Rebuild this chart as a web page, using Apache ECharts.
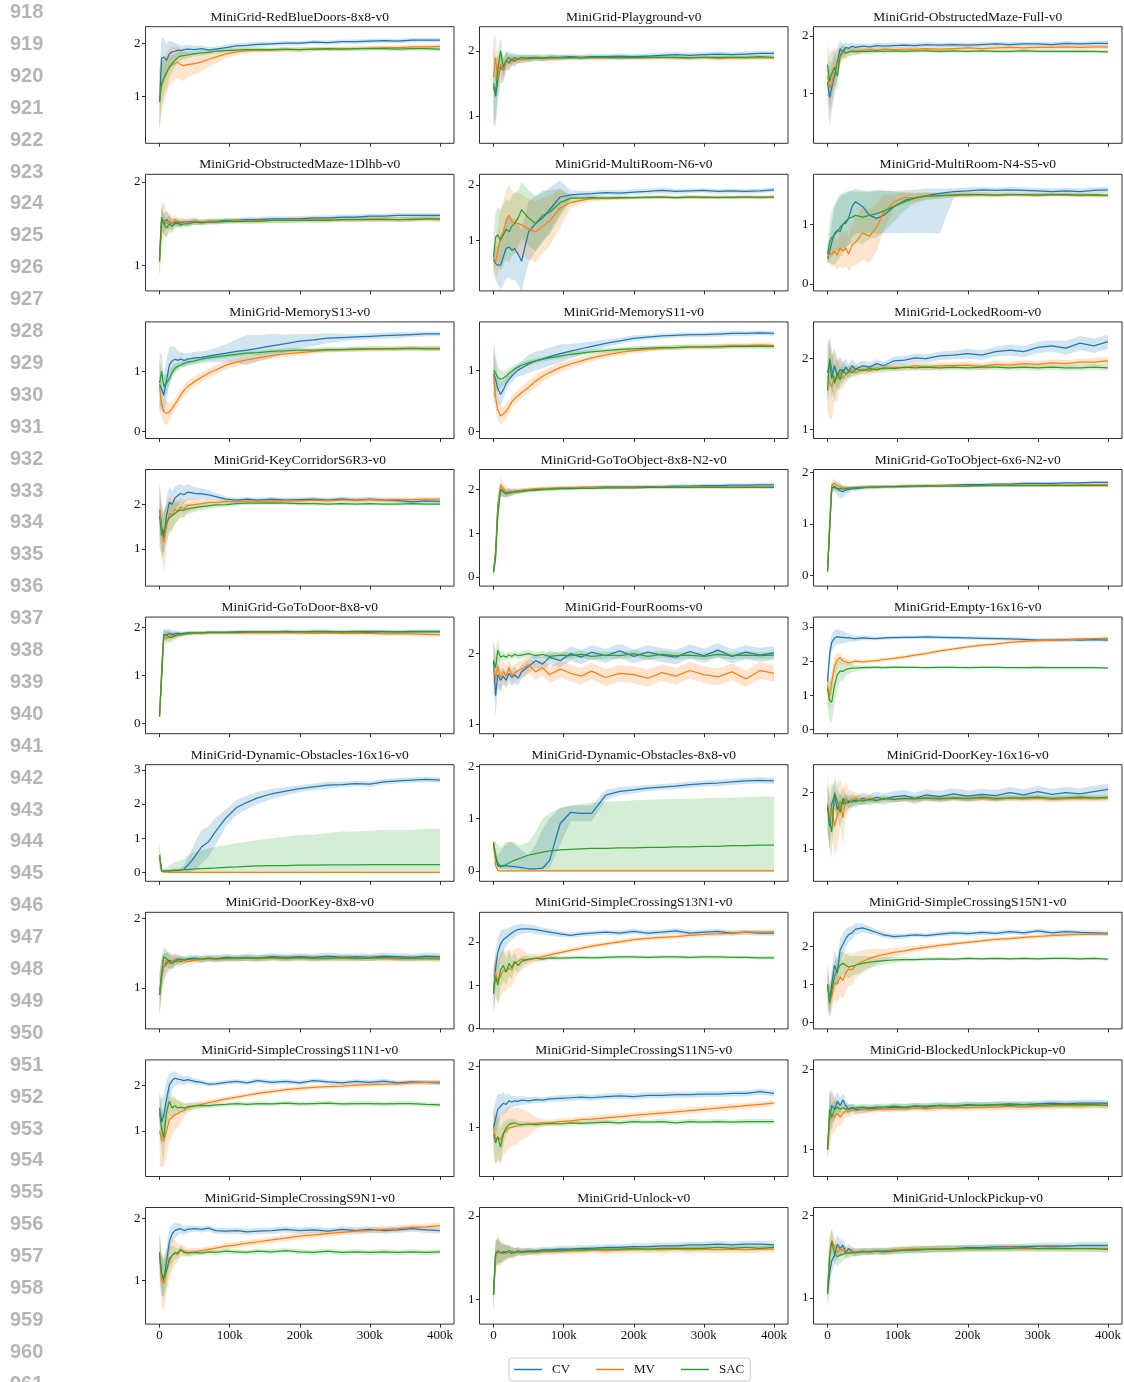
<!DOCTYPE html>
<html><head><meta charset="utf-8">
<script src="https://cdn.jsdelivr.net/npm/echarts@6/dist/echarts.min.js"></script>
<style>html,body{margin:0;padding:0;background:#fff}#c{width:1124px;height:1382px}</style>
</head><body><div id="c"></div>
<script>
// ---------------- DATA ----------------
const X = [0,3,6,10,14,18,22,26, 30,35,40,50,60,70,80,95, 110,125,140,160,180,200,220,240, 260,280,300,320,340,360,380,400];
const X_TICKS = [0,100,200,300,400];
const X_TICK_LABELS = ['0','100k','200k','300k','400k'];
const SERIES_NAMES = ['CV','MV','SAC'];
const LINE_NUMBERS = [918,919,920,921,922,923,924,925,926,927,928,929,930,931,932,933,934,935,936,937,938,939,940,941,942,943,944,945,946,947,948,949,950,951,952,953,954,955,956,957,958,959,960,961];

// P1 RedBlueDoors-8x8
const p01_cv = [0.90,1.72,1.74,1.68,1.80,1.84,1.85,1.87, 1.86,1.88,1.89,1.88,1.90,1.87,1.89,1.92, 1.95,1.96,1.98,1.99,2.00,2.00,2.02,2.01, 2.03,2.03,2.04,2.05,2.04,2.06,2.06,2.06];
const p01_cv_s = [0.6,0.4,0.35,0.3,0.25,0.2,0.15,0.12, 0.1,0.08,0.08,0.07,0.06,0.06,0.05,0.05, 0.05,0.05,0.05,0.04,0.04,0.04,0.04,0.04, 0.04,0.04,0.04,0.04,0.04,0.04,0.04,0.04];
const p01_mv = [1.00,1.20,1.30,1.45,1.55,1.60,1.62,1.65, 1.60,1.58,1.60,1.62,1.65,1.70,1.74,1.80, 1.84,1.86,1.87,1.87,1.88,1.88,1.89,1.89, 1.90,1.90,1.91,1.92,1.92,1.93,1.93,1.94];
const p01_mv_s = [0.55,0.5,0.45,0.4,0.35,0.35,0.3,0.3, 0.3,0.28,0.25,0.2,0.18,0.15,0.12,0.08, 0.06,0.05,0.05,0.04,0.04,0.04,0.04,0.04, 0.04,0.04,0.04,0.04,0.04,0.04,0.04,0.04];
const p01_sac = [0.90,1.25,1.35,1.45,1.55,1.62,1.68,1.73, 1.76,1.77,1.78,1.80,1.82,1.83,1.85,1.86, 1.87,1.88,1.88,1.88,1.89,1.88,1.89,1.90, 1.89,1.90,1.90,1.90,1.89,1.90,1.90,1.89];
const p01_sac_s = [0.55,0.4,0.35,0.3,0.2,0.15,0.12,0.1, 0.08,0.08,0.06,0.05,0.05,0.04,0.04,0.04, 0.04,0.04,0.04,0.04,0.04,0.04,0.04,0.04, 0.04,0.04,0.04,0.04,0.04,0.04,0.04,0.04];
// P2 Playground
const p02_cv = [1.45,1.30,1.55,1.75,1.70,1.85,1.82,1.87, 1.85,1.88,1.87,1.89,1.90,1.89,1.90,1.90, 1.91,1.90,1.91,1.91,1.92,1.91,1.92,1.93, 1.94,1.93,1.94,1.95,1.94,1.95,1.96,1.96];
const p02_cv_s = [0.6,0.45,0.35,0.25,0.2,0.15,0.12,0.1, 0.08,0.07,0.06,0.05,0.05,0.05,0.05,0.04, 0.04,0.04,0.04,0.04,0.04,0.04,0.04,0.04, 0.04,0.04,0.04,0.04,0.04,0.04,0.04,0.04];
const p02_mv = [1.60,1.90,1.55,1.80,1.70,1.85,1.80,1.85, 1.83,1.87,1.86,1.88,1.88,1.89,1.88,1.89, 1.89,1.90,1.89,1.89,1.90,1.89,1.89,1.90, 1.89,1.89,1.90,1.88,1.89,1.89,1.89,1.89];
const p02_mv_s = [0.6,0.35,0.3,0.2,0.15,0.12,0.1,0.08, 0.07,0.06,0.05,0.05,0.04,0.04,0.04,0.04, 0.03,0.03,0.03,0.03,0.03,0.03,0.03,0.03, 0.03,0.03,0.03,0.03,0.03,0.03,0.03,0.03];
const p02_sac = [1.50,1.35,1.70,2.00,1.75,1.85,1.90,1.85, 1.90,1.87,1.90,1.88,1.89,1.88,1.90,1.89, 1.90,1.89,1.90,1.90,1.89,1.90,1.90,1.90, 1.90,1.89,1.90,1.90,1.90,1.90,1.91,1.90];
const p02_sac_s = [0.6,0.4,0.3,0.2,0.15,0.12,0.1,0.08, 0.07,0.06,0.05,0.05,0.04,0.04,0.04,0.04, 0.03,0.03,0.03,0.03,0.03,0.03,0.03,0.03, 0.03,0.03,0.03,0.03,0.03,0.03,0.03,0.03];
// P3 ObstructedMaze-Full
const p03_cv = [1.20,0.93,1.10,1.30,1.55,1.78,1.72,1.80, 1.78,1.82,1.80,1.82,1.81,1.83,1.82,1.83, 1.84,1.83,1.85,1.84,1.85,1.84,1.85,1.86, 1.85,1.86,1.86,1.85,1.87,1.86,1.87,1.87];
const p03_cv_s = [0.3,0.5,0.4,0.35,0.25,0.15,0.12,0.1, 0.08,0.07,0.06,0.05,0.05,0.05,0.05,0.05, 0.04,0.04,0.04,0.04,0.04,0.04,0.04,0.04, 0.04,0.04,0.04,0.04,0.04,0.04,0.04,0.04];
const p03_mv = [1.30,1.10,1.15,1.45,1.50,1.65,1.70,1.70, 1.72,1.74,1.74,1.75,1.76,1.75,1.77,1.76, 1.77,1.77,1.78,1.77,1.78,1.79,1.78,1.79, 1.80,1.79,1.80,1.80,1.81,1.80,1.81,1.81];
const p03_mv_s = [0.3,0.45,0.4,0.35,0.25,0.15,0.12,0.1, 0.08,0.07,0.06,0.05,0.05,0.05,0.04,0.04, 0.04,0.04,0.04,0.04,0.04,0.04,0.04,0.04, 0.04,0.04,0.04,0.04,0.04,0.04,0.04,0.04];
const p03_sac = [1.50,1.20,1.35,1.45,1.30,1.65,1.75,1.70, 1.72,1.73,1.72,1.73,1.73,1.74,1.73,1.74, 1.73,1.74,1.74,1.73,1.74,1.73,1.74,1.73, 1.73,1.74,1.73,1.73,1.73,1.73,1.73,1.72];
const p03_sac_s = [0.35,0.45,0.4,0.3,0.25,0.15,0.12,0.1, 0.08,0.07,0.06,0.05,0.05,0.04,0.04,0.04, 0.03,0.03,0.03,0.03,0.03,0.03,0.03,0.03, 0.03,0.03,0.03,0.03,0.03,0.03,0.03,0.03];
// P4 ObstructedMaze-1Dlhb
const p04_cv = [1.10,1.55,1.50,1.55,1.52,1.50,1.52,1.50, 1.51,1.52,1.52,1.53,1.52,1.53,1.53,1.54, 1.54,1.55,1.55,1.56,1.56,1.56,1.57,1.57, 1.58,1.58,1.59,1.59,1.60,1.60,1.60,1.60];
const p04_cv_s = [0.2,0.15,0.12,0.1,0.08,0.06,0.05,0.05, 0.04,0.04,0.04,0.04,0.03,0.03,0.03,0.03, 0.03,0.03,0.03,0.03,0.03,0.03,0.03,0.03, 0.03,0.03,0.03,0.03,0.03,0.03,0.03,0.03];
const p04_mv = [1.05,1.50,1.55,1.50,1.53,1.50,1.55,1.52, 1.53,1.52,1.51,1.53,1.52,1.53,1.53,1.53, 1.54,1.53,1.54,1.54,1.54,1.55,1.55,1.55, 1.55,1.55,1.56,1.56,1.55,1.56,1.56,1.55];
const p04_mv_s = [0.2,0.25,0.2,0.15,0.1,0.08,0.06,0.05, 0.05,0.04,0.04,0.04,0.03,0.03,0.03,0.03, 0.03,0.03,0.03,0.03,0.03,0.03,0.03,0.03, 0.03,0.03,0.03,0.03,0.03,0.03,0.03,0.03];
const p04_sac = [1.05,1.58,1.50,1.45,1.50,1.47,1.50,1.52, 1.48,1.50,1.50,1.52,1.51,1.52,1.52,1.53, 1.53,1.53,1.53,1.54,1.54,1.54,1.54,1.54, 1.55,1.55,1.55,1.55,1.55,1.55,1.56,1.56];
const p04_sac_s = [0.2,0.15,0.12,0.12,0.1,0.08,0.06,0.05, 0.04,0.04,0.04,0.03,0.03,0.03,0.03,0.03, 0.03,0.03,0.03,0.03,0.03,0.03,0.03,0.03, 0.03,0.03,0.03,0.03,0.03,0.03,0.03,0.03];
// P5 MultiRoom-N6
const p05_cv = [0.65,0.58,0.55,0.55,0.70,0.85,0.88,0.82, 0.85,0.75,0.62,1.15,1.30,1.40,1.55,1.78, 1.82,1.83,1.84,1.86,1.85,1.87,1.88,1.90, 1.88,1.89,1.90,1.88,1.89,1.88,1.89,1.91];
const p05_cv_s = [0.1,0.3,0.35,0.45,0.5,0.55,0.55,0.55, 0.55,0.55,0.55,0.55,0.5,0.45,0.4,0.3, 0.08,0.06,0.05,0.05,0.05,0.05,0.05,0.05, 0.04,0.04,0.04,0.04,0.04,0.04,0.04,0.04];
const p05_mv = [0.70,0.60,0.80,1.05,1.15,1.35,1.45,1.35, 1.30,1.30,1.28,1.20,1.15,1.25,1.35,1.58, 1.68,1.72,1.75,1.76,1.76,1.77,1.77,1.78, 1.77,1.78,1.77,1.78,1.77,1.78,1.77,1.78];
const p05_mv_s = [0.25,0.3,0.4,0.5,0.55,0.55,0.55,0.55, 0.55,0.55,0.55,0.55,0.55,0.5,0.45,0.35, 0.1,0.06,0.05,0.04,0.04,0.03,0.03,0.03, 0.03,0.03,0.03,0.03,0.03,0.03,0.03,0.03];
const p05_sac = [0.70,1.05,1.10,1.00,1.10,1.20,1.15,1.25, 1.30,1.40,1.55,1.40,1.30,1.45,1.50,1.68, 1.76,1.76,1.77,1.76,1.77,1.77,1.78,1.78, 1.77,1.78,1.78,1.77,1.78,1.78,1.78,1.78];
const p05_sac_s = [0.35,0.45,0.5,0.55,0.55,0.55,0.55,0.55, 0.55,0.5,0.5,0.5,0.5,0.45,0.4,0.25, 0.06,0.04,0.04,0.04,0.03,0.03,0.03,0.03, 0.03,0.03,0.03,0.03,0.03,0.03,0.03,0.03];
// P6 MultiRoom-N4-S5
const p06_cv = [0.42,0.55,0.70,0.85,0.90,0.88,1.00,1.02, 1.10,1.30,1.38,1.30,1.15,1.10,1.15,1.30, 1.40,1.45,1.48,1.52,1.55,1.56,1.58,1.57, 1.58,1.57,1.56,1.55,1.56,1.55,1.57,1.58];
const p06_cv_lo = [0.35,0.40,0.45,0.50,0.55,0.55,0.60,0.60, 0.65,0.80,0.85,0.85,0.85,0.85,0.85,0.85, 0.85,0.85,0.85,0.85,1.45,1.50,1.52,1.52, 1.52,1.52,1.51,1.50,1.51,1.50,1.52,1.53];
const p06_cv_hi = [0.50,0.80,1.00,1.30,1.45,1.50,1.52,1.55, 1.55,1.55,1.55,1.55,1.55,1.56,1.56,1.56, 1.57,1.58,1.60,1.60,1.60,1.62,1.63,1.62, 1.63,1.62,1.61,1.60,1.61,1.60,1.62,1.63];
const p06_mv = [0.45,0.50,0.50,0.55,0.48,0.60,0.55,0.60, 0.50,0.65,0.70,0.85,0.80,0.95,1.20,1.38, 1.45,1.45,1.48,1.48,1.50,1.49,1.50,1.49, 1.50,1.49,1.49,1.50,1.49,1.49,1.48,1.48];
const p06_mv_s = [0.1,0.15,0.2,0.25,0.25,0.3,0.3,0.3, 0.3,0.35,0.4,0.45,0.45,0.4,0.3,0.12, 0.1,0.08,0.06,0.05,0.04,0.04,0.04,0.04, 0.03,0.03,0.03,0.03,0.03,0.03,0.03,0.03];
const p06_sac = [0.50,0.70,0.78,0.82,0.88,0.95,1.00,1.05, 1.10,1.12,1.15,1.12,1.15,1.18,1.22,1.30, 1.38,1.44,1.47,1.48,1.49,1.50,1.50,1.49, 1.50,1.50,1.49,1.50,1.50,1.49,1.50,1.49];
const p06_sac_s = [0.15,0.35,0.45,0.5,0.5,0.5,0.5,0.45, 0.45,0.45,0.45,0.45,0.4,0.4,0.35,0.25, 0.15,0.08,0.06,0.05,0.04,0.04,0.03,0.03, 0.03,0.03,0.03,0.03,0.03,0.03,0.03,0.03];
// P7 MemoryS13
const p07_cv = [0.78,0.70,0.60,0.85,1.10,1.17,1.20,1.18, 1.20,1.18,1.20,1.22,1.23,1.25,1.27,1.30, 1.33,1.35,1.38,1.42,1.46,1.50,1.52,1.55, 1.56,1.57,1.58,1.59,1.60,1.61,1.62,1.62];
const p07_cv_s = [0.4,0.35,0.3,0.35,0.3,0.25,0.2,0.15, 0.12,0.12,0.1,0.1,0.1,0.1,0.12,0.15, 0.2,0.25,0.22,0.2,0.15,0.12,0.1,0.08, 0.06,0.05,0.05,0.05,0.05,0.04,0.04,0.04];
const p07_mv = [0.75,0.45,0.33,0.30,0.32,0.38,0.45,0.52, 0.60,0.68,0.74,0.83,0.90,0.97,1.02,1.10, 1.15,1.19,1.22,1.26,1.29,1.31,1.33,1.35, 1.36,1.36,1.37,1.37,1.38,1.38,1.38,1.38];
const p07_mv_s = [0.4,0.2,0.2,0.2,0.15,0.12,0.1,0.1, 0.1,0.1,0.1,0.08,0.08,0.08,0.08,0.07, 0.07,0.06,0.06,0.05,0.05,0.05,0.04,0.04, 0.04,0.04,0.04,0.04,0.04,0.04,0.04,0.04];
const p07_sac = [0.80,1.00,0.75,0.80,0.88,0.98,1.05,1.08, 1.10,1.13,1.15,1.17,1.20,1.22,1.24,1.26, 1.28,1.30,1.31,1.33,1.34,1.35,1.35,1.36, 1.36,1.37,1.37,1.37,1.37,1.38,1.37,1.37];
const p07_sac_s = [0.5,0.3,0.2,0.15,0.12,0.1,0.08,0.07, 0.06,0.05,0.05,0.05,0.04,0.04,0.04,0.04, 0.04,0.04,0.04,0.04,0.04,0.04,0.04,0.04, 0.04,0.04,0.04,0.04,0.04,0.04,0.04,0.04];
// P8 MemoryS11
const p08_cv = [0.95,0.85,0.70,0.60,0.68,0.78,0.85,0.90, 0.95,1.00,1.03,1.10,1.15,1.18,1.22,1.27, 1.31,1.35,1.39,1.44,1.48,1.52,1.54,1.56, 1.57,1.58,1.58,1.59,1.60,1.60,1.61,1.60];
const p08_cv_s = [0.4,0.3,0.25,0.2,0.15,0.12,0.1,0.1, 0.1,0.1,0.12,0.15,0.15,0.15,0.15,0.15, 0.12,0.1,0.08,0.06,0.05,0.05,0.04,0.04, 0.04,0.04,0.04,0.04,0.04,0.04,0.04,0.04];
const p08_mv = [0.95,0.55,0.35,0.25,0.28,0.32,0.40,0.48, 0.53,0.58,0.63,0.72,0.82,0.90,0.96,1.04, 1.10,1.15,1.20,1.25,1.29,1.32,1.34,1.36, 1.37,1.38,1.38,1.39,1.40,1.40,1.41,1.40];
const p08_mv_s = [0.45,0.2,0.15,0.15,0.12,0.12,0.1,0.1, 0.1,0.1,0.1,0.1,0.1,0.1,0.08,0.08, 0.07,0.06,0.06,0.05,0.05,0.05,0.04,0.04, 0.04,0.04,0.04,0.04,0.04,0.04,0.04,0.04];
const p08_sac = [1.00,0.95,0.88,0.85,0.87,0.90,0.95,0.98, 1.02,1.05,1.08,1.12,1.15,1.18,1.20,1.23, 1.26,1.28,1.30,1.32,1.34,1.35,1.36,1.37, 1.37,1.38,1.38,1.38,1.39,1.39,1.39,1.39];
const p08_sac_s = [0.5,0.3,0.2,0.15,0.12,0.1,0.08,0.07, 0.06,0.05,0.05,0.05,0.04,0.04,0.04,0.04, 0.04,0.04,0.04,0.04,0.04,0.04,0.04,0.04, 0.04,0.04,0.04,0.04,0.04,0.04,0.04,0.04];
// P9 LockedRoom
const p09_cv = [1.80,1.95,1.72,1.90,1.75,1.85,1.80,1.88, 1.82,1.90,1.85,1.90,1.88,1.93,1.90,1.97, 1.98,2.01,2.00,2.04,2.05,2.07,2.05,2.10, 2.12,2.10,2.16,2.18,2.15,2.22,2.18,2.24];
const p09_cv_s = [0.4,0.35,0.3,0.25,0.2,0.18,0.15,0.12, 0.1,0.1,0.08,0.07,0.07,0.06,0.06,0.06, 0.06,0.06,0.06,0.06,0.06,0.07,0.07,0.07, 0.08,0.08,0.08,0.08,0.1,0.1,0.1,0.1];
const p09_mv = [1.75,1.65,1.60,1.75,1.70,1.80,1.72,1.78, 1.80,1.85,1.80,1.85,1.82,1.87,1.85,1.88, 1.87,1.90,1.88,1.90,1.90,1.91,1.89,1.92, 1.91,1.93,1.92,1.94,1.93,1.95,1.95,1.97];
const p09_mv_s = [0.5,0.5,0.45,0.35,0.3,0.2,0.15,0.12, 0.1,0.08,0.07,0.06,0.05,0.05,0.05,0.05, 0.05,0.05,0.05,0.05,0.05,0.05,0.05,0.05, 0.05,0.05,0.05,0.05,0.05,0.05,0.06,0.06];
const p09_sac = [1.55,2.00,1.85,1.65,1.80,1.70,1.85,1.78, 1.82,1.80,1.85,1.83,1.86,1.84,1.87,1.86, 1.88,1.87,1.88,1.87,1.88,1.87,1.88,1.88, 1.87,1.88,1.87,1.88,1.87,1.87,1.88,1.87];
const p09_sac_s = [0.35,0.3,0.3,0.25,0.2,0.15,0.12,0.1, 0.08,0.07,0.06,0.05,0.05,0.05,0.04,0.04, 0.04,0.04,0.04,0.04,0.04,0.04,0.04,0.04, 0.04,0.04,0.04,0.04,0.04,0.04,0.04,0.04];
// P10 KeyCorridorS6R3
const p10_cv = [1.90,1.50,1.25,1.75,2.05,2.00,2.15,2.20, 2.25,2.22,2.28,2.25,2.24,2.22,2.18,2.12, 2.10,2.12,2.10,2.12,2.10,2.11,2.12,2.10, 2.13,2.10,2.12,2.10,2.09,2.06,2.08,2.07];
const p10_cv_s = [0.6,0.5,0.45,0.4,0.35,0.3,0.25,0.25, 0.2,0.2,0.18,0.15,0.12,0.1,0.08,0.06, 0.05,0.05,0.05,0.05,0.05,0.05,0.05,0.05, 0.05,0.05,0.05,0.05,0.05,0.05,0.05,0.05];
const p10_mv = [1.90,1.40,1.15,1.50,1.80,1.75,1.90,1.85, 1.95,1.90,1.98,2.00,2.02,2.05,2.05,2.07, 2.06,2.08,2.07,2.08,2.09,2.08,2.10,2.09, 2.10,2.10,2.11,2.10,2.11,2.11,2.12,2.12];
const p10_mv_s = [0.6,0.6,0.7,0.5,0.4,0.35,0.3,0.25, 0.2,0.2,0.15,0.12,0.1,0.08,0.07,0.06, 0.05,0.05,0.05,0.05,0.05,0.05,0.05,0.05, 0.05,0.05,0.05,0.05,0.05,0.05,0.05,0.05];
const p10_sac = [1.75,1.30,1.40,1.60,1.70,1.75,1.80,1.85, 1.88,1.87,1.90,1.93,1.95,1.97,1.99,2.00, 2.02,2.03,2.03,2.04,2.03,2.02,2.02,2.01, 2.02,2.01,2.02,2.01,2.01,2.02,2.01,2.01];
const p10_sac_s = [0.7,0.5,0.45,0.4,0.35,0.3,0.25,0.2, 0.18,0.15,0.12,0.1,0.08,0.07,0.06,0.05, 0.04,0.04,0.04,0.04,0.04,0.04,0.04,0.04, 0.04,0.04,0.04,0.04,0.04,0.04,0.04,0.04];
// P11 GoToObject-8x8-N2
const p11_cv = [0.12,0.60,1.60,2.00,1.95,1.92,1.95,1.94, 1.96,1.97,1.97,1.99,2.00,2.01,2.02,2.03, 2.04,2.05,2.05,2.06,2.06,2.06,2.07,2.07, 2.08,2.08,2.09,2.09,2.10,2.10,2.11,2.11];
const p11_cv_s = [0.05,0.2,0.3,0.15,0.12,0.1,0.08,0.07, 0.06,0.05,0.05,0.05,0.04,0.04,0.04,0.04, 0.04,0.04,0.04,0.04,0.04,0.04,0.04,0.04, 0.04,0.04,0.04,0.04,0.04,0.04,0.04,0.04];
const p11_mv = [0.12,0.50,1.50,2.10,2.00,1.95,1.93,1.95, 1.96,1.96,1.98,2.00,2.02,2.03,2.03,2.04, 2.04,2.05,2.05,2.05,2.05,2.06,2.05,2.06, 2.05,2.06,2.06,2.06,2.05,2.06,2.06,2.06];
const p11_mv_s = [0.05,0.2,0.3,0.2,0.15,0.12,0.1,0.08, 0.07,0.06,0.05,0.05,0.04,0.04,0.04,0.04, 0.04,0.04,0.04,0.04,0.04,0.04,0.04,0.04, 0.04,0.04,0.04,0.04,0.04,0.04,0.04,0.04];
const p11_sac = [0.10,0.45,1.40,2.00,1.95,1.90,1.92,1.93, 1.94,1.95,1.96,1.98,1.99,2.00,2.01,2.02, 2.02,2.03,2.03,2.04,2.04,2.04,2.05,2.05, 2.05,2.05,2.05,2.05,2.05,2.05,2.05,2.05];
const p11_sac_s = [0.05,0.2,0.3,0.15,0.12,0.1,0.08,0.07, 0.06,0.05,0.05,0.04,0.04,0.04,0.04,0.04, 0.03,0.03,0.03,0.03,0.03,0.03,0.03,0.03, 0.03,0.03,0.03,0.03,0.03,0.03,0.03,0.03];
// P12 GoToObject-6x6-N2
const p12_cv = [0.08,0.90,1.70,1.72,1.68,1.64,1.62,1.65, 1.66,1.68,1.68,1.70,1.71,1.71,1.72,1.72, 1.73,1.73,1.74,1.74,1.75,1.76,1.76,1.77, 1.77,1.78,1.78,1.78,1.79,1.79,1.80,1.80];
const p12_cv_s = [0.05,0.3,0.1,0.1,0.12,0.15,0.12,0.08, 0.06,0.05,0.05,0.04,0.04,0.04,0.03,0.03, 0.03,0.03,0.03,0.03,0.03,0.03,0.03,0.03, 0.03,0.03,0.03,0.03,0.03,0.03,0.03,0.03];
const p12_mv = [0.08,1.00,1.75,1.78,1.74,1.72,1.70,1.70, 1.69,1.70,1.70,1.71,1.71,1.72,1.72,1.72, 1.73,1.73,1.73,1.74,1.74,1.74,1.74,1.75, 1.75,1.75,1.75,1.76,1.75,1.76,1.76,1.76];
const p12_mv_s = [0.05,0.3,0.1,0.08,0.07,0.06,0.05,0.05, 0.04,0.04,0.04,0.03,0.03,0.03,0.03,0.03, 0.03,0.03,0.03,0.03,0.03,0.03,0.03,0.03, 0.03,0.03,0.03,0.03,0.03,0.03,0.03,0.03];
const p12_sac = [0.08,0.90,1.70,1.70,1.68,1.68,1.67,1.68, 1.69,1.69,1.70,1.70,1.71,1.71,1.72,1.72, 1.72,1.73,1.73,1.73,1.73,1.73,1.74,1.74, 1.74,1.74,1.74,1.74,1.74,1.74,1.74,1.74];
const p12_sac_s = [0.05,0.3,0.08,0.06,0.05,0.05,0.04,0.04, 0.03,0.03,0.03,0.03,0.03,0.03,0.03,0.03, 0.03,0.03,0.03,0.03,0.03,0.03,0.03,0.03, 0.03,0.03,0.03,0.03,0.03,0.03,0.03,0.03];
// P13 GoToDoor-8x8
const p13_cv = [0.15,1.00,1.85,1.85,1.88,1.86,1.87,1.88, 1.87,1.88,1.89,1.89,1.89,1.90,1.90,1.90, 1.91,1.91,1.91,1.91,1.92,1.91,1.92,1.92, 1.91,1.92,1.92,1.92,1.91,1.92,1.92,1.92];
const p13_cv_s = [0.05,0.3,0.12,0.1,0.1,0.08,0.07,0.05, 0.05,0.04,0.04,0.04,0.04,0.04,0.04,0.04, 0.04,0.04,0.04,0.04,0.04,0.04,0.04,0.04, 0.04,0.04,0.04,0.04,0.04,0.04,0.04,0.04];
const p13_mv = [0.15,1.10,1.80,1.78,1.82,1.84,1.83,1.85, 1.85,1.86,1.87,1.88,1.88,1.89,1.89,1.89, 1.89,1.89,1.89,1.89,1.89,1.89,1.88,1.89, 1.88,1.88,1.88,1.87,1.87,1.87,1.86,1.85];
const p13_mv_s = [0.05,0.3,0.15,0.12,0.1,0.08,0.07,0.06, 0.05,0.05,0.04,0.04,0.04,0.04,0.04,0.04, 0.04,0.04,0.04,0.04,0.04,0.04,0.04,0.04, 0.04,0.04,0.04,0.04,0.04,0.04,0.04,0.04];
const p13_sac = [0.15,1.00,1.85,1.84,1.80,1.80,1.83,1.85, 1.86,1.87,1.88,1.89,1.89,1.90,1.90,1.90, 1.90,1.91,1.91,1.91,1.91,1.91,1.91,1.91, 1.91,1.91,1.90,1.91,1.91,1.91,1.91,1.91];
const p13_sac_s = [0.05,0.3,0.12,0.12,0.12,0.1,0.08,0.06, 0.05,0.04,0.04,0.03,0.03,0.03,0.03,0.03, 0.03,0.03,0.03,0.03,0.03,0.03,0.03,0.03, 0.03,0.03,0.03,0.03,0.03,0.03,0.03,0.03];
// P14 FourRooms
const p14_cv = [1.90,1.40,1.70,1.62,1.68,1.62,1.72,1.66, 1.70,1.65,1.74,1.82,1.90,1.85,1.95,1.90, 2.00,1.95,2.02,1.97,2.04,1.96,2.02,1.98, 1.95,2.03,1.97,2.05,1.96,2.02,1.98,2.01];
const p14_cv_s = [0.3,0.3,0.2,0.15,0.12,0.12,0.12,0.12, 0.12,0.1,0.1,0.1,0.1,0.1,0.1,0.1, 0.1,0.1,0.1,0.1,0.1,0.1,0.1,0.1, 0.1,0.1,0.1,0.1,0.1,0.1,0.1,0.1];
const p14_mv = [1.80,1.65,1.82,1.65,1.75,1.68,1.80,1.70, 1.72,1.76,1.78,1.84,1.74,1.80,1.70,1.78, 1.72,1.68,1.75,1.66,1.72,1.70,1.65,1.73, 1.68,1.76,1.70,1.67,1.74,1.64,1.76,1.72];
const p14_mv_s = [0.35,0.3,0.25,0.2,0.15,0.15,0.12,0.12, 0.12,0.12,0.12,0.12,0.12,0.12,0.12,0.12, 0.12,0.12,0.12,0.12,0.12,0.12,0.12,0.12, 0.12,0.12,0.12,0.12,0.12,0.12,0.12,0.12];
const p14_sac = [1.90,1.80,2.05,1.95,1.97,1.95,1.98,1.96, 1.99,1.97,1.98,2.00,1.97,1.99,1.96,1.98, 1.97,1.99,1.96,1.98,1.97,2.00,1.96,1.99, 1.97,1.98,1.96,1.99,1.97,1.98,1.97,1.98];
const p14_sac_s = [0.3,0.25,0.15,0.08,0.06,0.05,0.05,0.05, 0.05,0.05,0.05,0.05,0.05,0.05,0.05,0.05, 0.05,0.05,0.05,0.05,0.05,0.05,0.05,0.05, 0.05,0.05,0.05,0.05,0.05,0.05,0.05,0.05];
// P15 Empty-16x16
const p15_cv = [1.40,2.20,2.55,2.68,2.72,2.70,2.70,2.68, 2.69,2.67,2.66,2.68,2.67,2.66,2.68,2.69, 2.70,2.70,2.71,2.70,2.69,2.68,2.67,2.66, 2.65,2.64,2.62,2.62,2.63,2.62,2.63,2.62];
const p15_cv_s = [0.3,0.3,0.25,0.25,0.22,0.2,0.18,0.15, 0.12,0.1,0.08,0.07,0.06,0.05,0.05,0.05, 0.05,0.05,0.05,0.05,0.05,0.05,0.05,0.05, 0.05,0.05,0.05,0.05,0.05,0.05,0.05,0.05];
const p15_mv = [1.30,0.95,1.40,1.85,2.05,2.10,2.00,1.98, 1.95,1.97,2.00,1.98,2.00,2.02,2.05,2.08, 2.13,2.18,2.22,2.30,2.36,2.42,2.47,2.50, 2.55,2.58,2.60,2.62,2.63,2.65,2.66,2.67];
const p15_mv_s = [0.4,0.4,0.35,0.3,0.2,0.15,0.12,0.1, 0.08,0.07,0.06,0.05,0.05,0.05,0.05,0.05, 0.05,0.05,0.05,0.05,0.05,0.05,0.05,0.05, 0.05,0.05,0.05,0.05,0.05,0.05,0.05,0.05];
const p15_sac = [1.20,0.85,0.80,1.30,1.60,1.72,1.70,1.76, 1.78,1.80,1.80,1.81,1.82,1.82,1.81,1.83, 1.82,1.82,1.81,1.82,1.82,1.81,1.82,1.82, 1.81,1.81,1.82,1.81,1.81,1.81,1.81,1.80];
const p15_sac_s = [0.5,0.6,0.6,0.5,0.4,0.3,0.25,0.2, 0.15,0.12,0.1,0.06,0.05,0.04,0.04,0.04, 0.03,0.03,0.03,0.03,0.03,0.03,0.03,0.03, 0.03,0.03,0.03,0.03,0.03,0.03,0.03,0.03];
// P16 Dynamic-Obstacles-16x16
const p16_cv = [0.50,0.05,0.04,0.05,0.04,0.05,0.06,0.05, 0.07,0.10,0.20,0.45,0.75,0.90,1.20,1.60, 1.90,2.05,2.18,2.30,2.38,2.45,2.50,2.55, 2.57,2.60,2.58,2.65,2.68,2.70,2.72,2.70];
const p16_cv_s = [0.3,0.03,0.03,0.04,0.04,0.05,0.06,0.05, 0.07,0.1,0.2,0.4,0.5,0.45,0.4,0.25, 0.22,0.2,0.18,0.15,0.12,0.1,0.1,0.1, 0.08,0.08,0.08,0.08,0.08,0.08,0.08,0.08];
const p16_mv = [0.50,0.03,0.01,0.01,0.00,0.00,0.00,0.00, 0.00,0.00,0.00,0.00,0.00,0.00,0.00,0.00, 0.00,0.00,0.00,0.00,0.00,0.00,0.00,0.00, 0.00,0.00,0.00,0.00,0.00,0.00,0.00,0.00];
const p16_mv_s = [0.3,0.03,0.02,0.02,0.02,0.02,0.02,0.02, 0.02,0.02,0.02,0.02,0.02,0.02,0.02,0.02, 0.02,0.02,0.02,0.02,0.02,0.02,0.02,0.02, 0.02,0.02,0.02,0.02,0.02,0.02,0.02,0.02];
const p16_sac = [0.50,0.05,0.04,0.05,0.05,0.06,0.06,0.07, 0.07,0.08,0.08,0.10,0.11,0.12,0.13,0.15, 0.16,0.18,0.19,0.20,0.20,0.21,0.21,0.22, 0.22,0.22,0.23,0.23,0.23,0.23,0.23,0.23];
const p16_sac_lo = [0.10,0.00,0.00,0.00,0.00,0.00,0.00,0.00, 0.00,0.00,0.00,0.00,0.00,0.00,0.00,0.00, 0.00,0.00,0.00,0.00,0.00,0.00,0.00,0.00, 0.00,0.00,0.00,0.00,0.00,0.00,0.00,0.00];
const p16_sac_hi = [0.90,0.10,0.10,0.12,0.20,0.25,0.30,0.32, 0.35,0.40,0.50,0.60,0.65,0.70,0.75,0.80, 0.85,0.90,0.95,1.00,1.05,1.10,1.10,1.15, 1.20,1.20,1.22,1.25,1.25,1.25,1.28,1.28];
// P17 Dynamic-Obstacles-8x8
const p17_cv = [0.50,0.25,0.10,0.08,0.09,0.10,0.09,0.08, 0.08,0.07,0.06,0.04,0.04,0.05,0.20,0.90, 1.12,1.10,1.10,1.45,1.52,1.55,1.58,1.60, 1.62,1.65,1.67,1.68,1.70,1.72,1.73,1.72];
const p17_cv_lo = [0.45,0.15,0.05,0.03,0.03,0.03,0.03,0.03, 0.03,0.03,0.02,0.02,0.02,0.02,0.05,0.50, 0.95,0.95,0.95,1.35,1.45,1.48,1.52,1.55, 1.56,1.59,1.61,1.62,1.64,1.66,1.67,1.66];
const p17_cv_hi = [0.55,0.40,0.30,0.35,0.45,0.50,0.55,0.55, 0.50,0.45,0.40,0.30,0.50,0.80,1.00,1.20, 1.25,1.25,1.25,1.55,1.60,1.62,1.64,1.66, 1.68,1.71,1.73,1.74,1.76,1.78,1.79,1.78];
const p17_mv = [0.50,0.10,0.01,0.00,0.00,0.00,0.00,0.00, 0.00,0.00,0.00,0.00,0.00,0.00,0.00,0.00, 0.00,0.00,0.00,0.00,0.00,0.00,0.00,0.00, 0.00,0.00,0.00,0.00,0.00,0.00,0.00,0.00];
const p17_mv_s = [0.05,0.05,0.02,0.02,0.02,0.02,0.02,0.02, 0.02,0.02,0.02,0.02,0.02,0.02,0.02,0.02, 0.02,0.02,0.02,0.02,0.02,0.02,0.02,0.02, 0.02,0.02,0.02,0.02,0.02,0.02,0.02,0.02];
const p17_sac = [0.55,0.30,0.15,0.10,0.10,0.12,0.15,0.18, 0.20,0.23,0.25,0.30,0.33,0.36,0.38,0.40, 0.41,0.42,0.43,0.43,0.44,0.44,0.45,0.45, 0.46,0.46,0.47,0.47,0.48,0.48,0.49,0.49];
const p17_sac_lo = [0.50,0.20,0.05,0.03,0.02,0.00,0.00,0.00, 0.00,0.00,0.00,0.00,0.00,0.00,0.00,0.00, 0.00,0.00,0.00,0.00,0.00,0.00,0.00,0.00, 0.00,0.00,0.00,0.00,0.00,0.00,0.00,0.00];
const p17_sac_hi = [0.60,0.55,0.50,0.45,0.50,0.55,0.55,0.55, 0.55,0.50,0.50,0.55,0.75,1.00,1.10,1.20, 1.25,1.28,1.30,1.32,1.33,1.35,1.36,1.37, 1.38,1.38,1.39,1.40,1.40,1.41,1.42,1.42];
// P18 DoorKey-16x16
const p18_cv = [1.75,1.40,1.80,1.95,1.70,1.85,1.80,1.90, 1.82,1.88,1.84,1.90,1.87,1.92,1.88,1.93, 1.95,1.90,1.96,1.93,1.98,1.94,1.97,1.95, 2.00,1.96,2.02,1.97,2.00,1.98,2.02,2.06];
const p18_cv_s = [0.4,0.4,0.3,0.25,0.2,0.15,0.12,0.1, 0.1,0.1,0.1,0.1,0.1,0.1,0.1,0.1, 0.1,0.1,0.1,0.1,0.1,0.1,0.1,0.1, 0.1,0.1,0.1,0.1,0.1,0.1,0.1,0.1];
const p18_mv = [1.80,1.50,1.75,1.40,1.60,1.85,1.55,1.90, 1.85,1.88,1.90,1.86,1.90,1.87,1.90,1.88, 1.90,1.89,1.90,1.88,1.90,1.89,1.90,1.88, 1.90,1.89,1.90,1.88,1.89,1.90,1.89,1.90];
const p18_mv_s = [0.55,0.5,0.45,0.5,0.6,0.4,0.5,0.3, 0.2,0.15,0.1,0.08,0.07,0.06,0.05,0.05, 0.05,0.05,0.05,0.05,0.05,0.05,0.05,0.05, 0.05,0.05,0.05,0.05,0.05,0.05,0.05,0.05];
const p18_sac = [1.75,1.50,1.30,2.00,1.85,1.65,1.90,1.80, 1.85,1.83,1.87,1.85,1.88,1.86,1.90,1.88, 1.90,1.89,1.91,1.90,1.91,1.90,1.92,1.90, 1.91,1.91,1.92,1.90,1.91,1.92,1.91,1.92];
const p18_sac_s = [0.4,0.5,0.45,0.3,0.25,0.3,0.2,0.15, 0.12,0.1,0.08,0.07,0.06,0.05,0.05,0.05, 0.05,0.05,0.05,0.05,0.05,0.05,0.05,0.05, 0.05,0.05,0.05,0.05,0.05,0.05,0.05,0.05];
// P19 DoorKey-8x8
const p19_cv = [0.90,1.20,1.30,1.35,1.40,1.38,1.40,1.42, 1.38,1.40,1.42,1.43,1.41,1.43,1.42,1.44, 1.43,1.44,1.43,1.45,1.44,1.45,1.44,1.46, 1.44,1.45,1.44,1.46,1.45,1.44,1.46,1.45];
const p19_cv_s = [0.3,0.25,0.2,0.15,0.12,0.1,0.08,0.07, 0.06,0.05,0.05,0.05,0.05,0.05,0.05,0.05, 0.05,0.05,0.05,0.05,0.05,0.05,0.05,0.05, 0.05,0.05,0.05,0.05,0.05,0.05,0.05,0.05];
const p19_mv = [0.90,1.15,1.30,1.40,1.35,1.38,1.42,1.37, 1.40,1.40,1.38,1.40,1.41,1.42,1.41,1.42, 1.42,1.43,1.42,1.43,1.42,1.43,1.42,1.42, 1.43,1.42,1.43,1.42,1.42,1.42,1.42,1.41];
const p19_mv_s = [0.3,0.25,0.2,0.15,0.12,0.1,0.08,0.07, 0.06,0.05,0.05,0.05,0.04,0.04,0.04,0.04, 0.04,0.04,0.04,0.04,0.04,0.04,0.04,0.04, 0.04,0.04,0.04,0.04,0.04,0.04,0.04,0.04];
const p19_sac = [0.90,1.20,1.45,1.42,1.38,1.35,1.38,1.40, 1.42,1.40,1.41,1.42,1.42,1.43,1.42,1.43, 1.43,1.43,1.43,1.44,1.43,1.44,1.43,1.43, 1.44,1.43,1.43,1.44,1.43,1.43,1.43,1.43];
const p19_sac_s = [0.3,0.25,0.15,0.12,0.1,0.08,0.07,0.06, 0.05,0.05,0.04,0.04,0.04,0.04,0.04,0.04, 0.04,0.04,0.04,0.04,0.04,0.04,0.04,0.04, 0.04,0.04,0.04,0.04,0.04,0.04,0.04,0.04];
// P20 SimpleCrossingS13N1
const p20_cv = [0.80,1.40,1.75,1.95,2.05,2.10,2.15,2.20, 2.25,2.28,2.30,2.30,2.28,2.25,2.22,2.18, 2.15,2.18,2.20,2.22,2.20,2.24,2.20,2.22, 2.25,2.20,2.22,2.24,2.20,2.22,2.20,2.20];
const p20_cv_s = [0.5,0.4,0.35,0.3,0.25,0.2,0.18,0.15, 0.15,0.12,0.12,0.1,0.1,0.08,0.08,0.07, 0.06,0.06,0.06,0.06,0.06,0.06,0.06,0.06, 0.06,0.06,0.06,0.06,0.06,0.06,0.06,0.06];
const p20_mv = [0.95,1.30,1.10,1.20,1.35,1.30,1.40,1.35, 1.50,1.55,1.60,1.58,1.62,1.65,1.70,1.75, 1.80,1.85,1.90,1.95,2.00,2.05,2.08,2.10, 2.12,2.15,2.17,2.18,2.20,2.22,2.22,2.23];
const p20_mv_s = [0.5,0.45,0.5,0.5,0.5,0.45,0.45,0.4, 0.35,0.3,0.25,0.12,0.1,0.08,0.07,0.06, 0.05,0.05,0.05,0.05,0.05,0.05,0.05,0.05, 0.05,0.05,0.05,0.05,0.05,0.05,0.05,0.05];
const p20_sac = [0.90,1.20,1.00,1.35,1.45,1.30,1.50,1.40, 1.55,1.45,1.55,1.60,1.62,1.60,1.63,1.62, 1.63,1.64,1.63,1.64,1.65,1.65,1.64,1.65, 1.65,1.64,1.65,1.65,1.64,1.64,1.63,1.63];
const p20_sac_s = [0.5,0.45,0.45,0.4,0.35,0.3,0.3,0.25, 0.2,0.15,0.12,0.08,0.06,0.05,0.05,0.05, 0.04,0.04,0.04,0.04,0.04,0.04,0.04,0.04, 0.04,0.04,0.04,0.04,0.04,0.04,0.04,0.04];
// P21 SimpleCrossingS15N1
const p21_cv = [1.00,0.60,1.00,1.50,1.30,1.90,2.05,2.20, 2.30,2.35,2.45,2.48,2.42,2.36,2.30,2.25, 2.27,2.30,2.28,2.32,2.35,2.33,2.36,2.34, 2.38,2.35,2.40,2.35,2.38,2.36,2.35,2.34];
const p21_cv_s = [0.5,0.4,0.4,0.4,0.35,0.3,0.3,0.25, 0.2,0.18,0.15,0.12,0.1,0.08,0.08,0.07, 0.06,0.06,0.06,0.06,0.06,0.06,0.06,0.06, 0.06,0.06,0.06,0.06,0.06,0.06,0.06,0.06];
const p21_mv = [1.00,0.55,0.70,1.05,1.00,1.20,1.10,1.30, 1.40,1.38,1.50,1.60,1.68,1.74,1.78,1.84, 1.88,1.93,1.97,2.02,2.06,2.10,2.14,2.18, 2.20,2.23,2.26,2.28,2.30,2.31,2.32,2.32];
const p21_mv_s = [0.5,0.4,0.4,0.45,0.5,0.5,0.5,0.5, 0.45,0.4,0.35,0.3,0.25,0.2,0.15,0.12, 0.1,0.08,0.07,0.06,0.05,0.05,0.05,0.05, 0.05,0.05,0.05,0.05,0.05,0.05,0.05,0.05];
const p21_sac = [1.00,0.50,0.85,1.20,1.40,1.50,1.55,1.50, 1.45,1.48,1.50,1.55,1.58,1.60,1.62,1.64, 1.65,1.65,1.66,1.67,1.66,1.68,1.67,1.68, 1.67,1.68,1.67,1.68,1.68,1.67,1.68,1.66];
const p21_sac_s = [0.6,0.4,0.4,0.4,0.35,0.35,0.3,0.3, 0.3,0.25,0.25,0.2,0.15,0.12,0.1,0.08, 0.06,0.05,0.05,0.04,0.04,0.04,0.04,0.04, 0.04,0.04,0.04,0.04,0.04,0.04,0.04,0.04];
// P22 SimpleCrossingS11N1
const p22_cv = [1.50,1.20,1.35,1.70,2.00,2.10,2.15,2.13, 2.12,2.10,2.12,2.08,2.06,2.02,2.03,2.06, 2.08,2.05,2.10,2.06,2.08,2.05,2.10,2.07, 2.05,2.08,2.06,2.09,2.05,2.07,2.06,2.05];
const p22_cv_s = [0.3,0.5,0.45,0.4,0.25,0.2,0.15,0.12, 0.1,0.1,0.08,0.07,0.06,0.05,0.05,0.05, 0.05,0.05,0.05,0.05,0.05,0.05,0.05,0.05, 0.05,0.05,0.05,0.05,0.05,0.05,0.05,0.05];
const p22_mv = [1.00,0.82,0.78,1.00,1.25,1.30,1.35,1.38, 1.42,1.45,1.50,1.55,1.58,1.62,1.65,1.70, 1.74,1.78,1.82,1.86,1.90,1.93,1.95,1.97, 1.98,2.00,2.01,2.02,2.03,2.05,2.06,2.07];
const p22_mv_s = [0.8,0.6,0.55,0.55,0.5,0.4,0.35,0.3, 0.25,0.15,0.1,0.08,0.07,0.06,0.05,0.05, 0.05,0.05,0.05,0.05,0.05,0.05,0.05,0.05, 0.05,0.05,0.05,0.05,0.05,0.05,0.05,0.05];
const p22_sac = [1.40,1.05,0.85,1.40,1.65,1.50,1.55,1.50, 1.52,1.50,1.53,1.55,1.56,1.55,1.57,1.58, 1.60,1.58,1.60,1.59,1.61,1.59,1.60,1.61, 1.59,1.60,1.60,1.59,1.60,1.60,1.58,1.57];
const p22_sac_s = [0.5,0.5,0.5,0.35,0.3,0.25,0.2,0.15, 0.12,0.1,0.08,0.07,0.06,0.05,0.05,0.05, 0.05,0.05,0.05,0.05,0.05,0.05,0.05,0.05, 0.05,0.05,0.05,0.05,0.05,0.05,0.05,0.05];
// P23 SimpleCrossingS11N5
const p23_cv = [1.00,1.15,1.30,1.35,1.40,1.38,1.44,1.42, 1.44,1.43,1.45,1.44,1.46,1.45,1.47,1.48, 1.49,1.50,1.49,1.51,1.52,1.51,1.53,1.53, 1.54,1.54,1.55,1.55,1.56,1.56,1.59,1.56];
const p23_cv_s = [0.3,0.3,0.25,0.2,0.18,0.15,0.12,0.1, 0.08,0.08,0.07,0.06,0.05,0.05,0.05,0.05, 0.05,0.05,0.05,0.05,0.05,0.05,0.05,0.05, 0.05,0.05,0.05,0.05,0.05,0.05,0.05,0.05];
const p23_mv = [1.00,0.80,0.85,0.80,0.90,0.95,1.00,1.00, 1.02,1.03,1.05,1.06,1.07,1.08,1.08,1.10, 1.11,1.13,1.14,1.16,1.18,1.20,1.22,1.24, 1.26,1.28,1.30,1.32,1.34,1.36,1.38,1.40];
const p23_mv_s = [0.3,0.4,0.4,0.35,0.35,0.35,0.35,0.3, 0.3,0.3,0.25,0.2,0.1,0.06,0.05,0.05, 0.05,0.05,0.05,0.05,0.05,0.05,0.05,0.05, 0.05,0.05,0.05,0.05,0.05,0.05,0.05,0.05];
const p23_sac = [0.90,0.75,0.85,0.68,0.90,1.00,1.05,1.07, 1.08,1.06,1.05,1.06,1.05,1.06,1.07,1.06, 1.08,1.07,1.08,1.09,1.08,1.10,1.09,1.10, 1.08,1.10,1.09,1.10,1.09,1.10,1.10,1.10];
const p23_sac_s = [0.4,0.35,0.35,0.3,0.2,0.12,0.1,0.08, 0.06,0.05,0.05,0.04,0.04,0.04,0.04,0.04, 0.04,0.04,0.04,0.04,0.04,0.04,0.04,0.04, 0.04,0.04,0.04,0.04,0.04,0.04,0.04,0.04];
// P24 BlockedUnlockPickup
const p24_cv = [1.00,1.40,1.55,1.50,1.60,1.55,1.62,1.55, 1.50,1.52,1.50,1.50,1.51,1.52,1.51,1.53, 1.52,1.54,1.53,1.55,1.54,1.56,1.55,1.56, 1.57,1.56,1.57,1.58,1.57,1.58,1.58,1.58];
const p24_cv_s = [0.1,0.3,0.2,0.15,0.12,0.1,0.08,0.07, 0.06,0.05,0.05,0.05,0.04,0.04,0.04,0.04, 0.04,0.04,0.04,0.04,0.04,0.04,0.04,0.04, 0.04,0.04,0.04,0.04,0.04,0.04,0.04,0.04];
const p24_mv = [1.00,1.35,1.45,1.40,1.45,1.40,1.45,1.48, 1.47,1.50,1.48,1.50,1.49,1.50,1.51,1.50, 1.51,1.52,1.51,1.52,1.53,1.52,1.53,1.53, 1.54,1.53,1.54,1.54,1.55,1.54,1.55,1.55];
const p24_mv_s = [0.1,0.35,0.25,0.2,0.15,0.12,0.1,0.08, 0.07,0.06,0.05,0.05,0.04,0.04,0.04,0.04, 0.04,0.04,0.04,0.04,0.04,0.04,0.04,0.04, 0.04,0.04,0.04,0.04,0.04,0.04,0.04,0.04];
const p24_sac = [1.00,1.50,1.40,1.50,1.53,1.50,1.52,1.50, 1.51,1.52,1.52,1.53,1.52,1.53,1.53,1.54, 1.53,1.54,1.54,1.55,1.54,1.55,1.55,1.56, 1.55,1.56,1.55,1.56,1.56,1.56,1.56,1.55];
const p24_sac_s = [0.1,0.25,0.15,0.12,0.1,0.08,0.07,0.06, 0.05,0.05,0.04,0.04,0.04,0.04,0.04,0.04, 0.04,0.04,0.04,0.04,0.04,0.04,0.04,0.04, 0.04,0.04,0.04,0.04,0.04,0.04,0.04,0.04];
// P25 SimpleCrossingS9N1
const p25_cv = [1.45,1.10,1.00,1.30,1.62,1.75,1.80,1.82, 1.83,1.80,1.82,1.83,1.82,1.84,1.80,1.79, 1.80,1.78,1.79,1.80,1.82,1.80,1.81,1.79, 1.82,1.80,1.82,1.80,1.81,1.83,1.81,1.80];
const p25_cv_s = [0.3,0.3,0.3,0.25,0.2,0.15,0.12,0.1, 0.08,0.07,0.06,0.05,0.05,0.05,0.05,0.05, 0.05,0.05,0.05,0.05,0.05,0.05,0.05,0.05, 0.05,0.05,0.05,0.05,0.05,0.05,0.05,0.05];
const p25_mv = [1.40,1.00,0.95,1.15,1.30,1.40,1.45,1.45, 1.48,1.47,1.45,1.46,1.48,1.50,1.52,1.55, 1.57,1.60,1.62,1.65,1.68,1.71,1.73,1.75, 1.77,1.79,1.80,1.82,1.83,1.85,1.86,1.88];
const p25_mv_s = [0.3,0.4,0.45,0.35,0.3,0.25,0.2,0.15, 0.1,0.08,0.07,0.06,0.05,0.05,0.05,0.05, 0.05,0.05,0.05,0.05,0.05,0.05,0.05,0.05, 0.05,0.05,0.05,0.05,0.05,0.05,0.05,0.05];
const p25_sac = [1.40,1.10,1.05,1.15,1.35,1.40,1.44,1.42, 1.50,1.45,1.44,1.45,1.44,1.46,1.45,1.47, 1.46,1.45,1.47,1.46,1.48,1.46,1.45,1.47, 1.45,1.46,1.45,1.46,1.45,1.46,1.45,1.46];
const p25_sac_s = [0.4,0.35,0.3,0.25,0.2,0.15,0.1,0.08, 0.06,0.05,0.05,0.04,0.04,0.04,0.04,0.04, 0.04,0.04,0.04,0.04,0.04,0.04,0.04,0.04, 0.04,0.04,0.04,0.04,0.04,0.04,0.04,0.04];
// P26 Unlock
const p26_cv = [1.05,1.55,1.58,1.55,1.57,1.56,1.58,1.57, 1.56,1.58,1.57,1.58,1.58,1.59,1.59,1.60, 1.60,1.61,1.61,1.62,1.62,1.63,1.63,1.64, 1.64,1.65,1.65,1.66,1.65,1.66,1.66,1.65];
const p26_cv_s = [0.2,0.15,0.15,0.12,0.1,0.08,0.07,0.06, 0.05,0.05,0.04,0.04,0.04,0.04,0.04,0.04, 0.04,0.04,0.04,0.04,0.04,0.04,0.04,0.04, 0.04,0.04,0.04,0.04,0.04,0.04,0.04,0.04];
const p26_mv = [1.05,1.50,1.58,1.55,1.56,1.55,1.57,1.56, 1.55,1.57,1.56,1.57,1.56,1.57,1.57,1.58, 1.58,1.58,1.59,1.58,1.59,1.59,1.60,1.59, 1.60,1.59,1.60,1.59,1.60,1.59,1.60,1.60];
const p26_mv_s = [0.2,0.2,0.18,0.15,0.12,0.1,0.08,0.07, 0.06,0.05,0.05,0.04,0.04,0.04,0.04,0.04, 0.04,0.04,0.04,0.04,0.04,0.04,0.04,0.04, 0.04,0.04,0.04,0.04,0.04,0.04,0.04,0.04];
const p26_sac = [1.05,1.55,1.57,1.56,1.55,1.57,1.56,1.55, 1.56,1.57,1.56,1.57,1.57,1.58,1.58,1.58, 1.59,1.59,1.60,1.60,1.60,1.61,1.60,1.61, 1.61,1.61,1.61,1.62,1.61,1.62,1.61,1.62];
const p26_sac_s = [0.2,0.15,0.15,0.12,0.1,0.08,0.07,0.06, 0.05,0.04,0.04,0.04,0.03,0.03,0.03,0.03, 0.03,0.03,0.03,0.03,0.03,0.03,0.03,0.03, 0.03,0.03,0.03,0.03,0.03,0.03,0.03,0.03];
// P27 UnlockPickup
const p27_cv = [1.05,1.30,1.45,1.52,1.65,1.60,1.64,1.55, 1.60,1.57,1.55,1.57,1.56,1.57,1.57,1.58, 1.58,1.59,1.59,1.60,1.60,1.61,1.61,1.62, 1.62,1.62,1.63,1.63,1.63,1.64,1.64,1.64];
const p27_cv_s = [0.15,0.2,0.15,0.12,0.12,0.1,0.08,0.07, 0.06,0.05,0.05,0.04,0.04,0.04,0.04,0.04, 0.04,0.04,0.04,0.04,0.04,0.04,0.04,0.04, 0.04,0.04,0.04,0.04,0.04,0.04,0.04,0.04];
const p27_mv = [1.10,1.55,1.70,1.62,1.55,1.60,1.57,1.58, 1.55,1.57,1.56,1.56,1.57,1.57,1.56,1.58, 1.59,1.60,1.59,1.60,1.59,1.60,1.60,1.60, 1.61,1.60,1.60,1.61,1.60,1.60,1.60,1.60];
const p27_mv_s = [0.15,0.2,0.15,0.12,0.1,0.08,0.07,0.06, 0.05,0.05,0.04,0.04,0.04,0.04,0.04,0.04, 0.04,0.04,0.04,0.04,0.04,0.04,0.04,0.04, 0.04,0.04,0.04,0.04,0.04,0.04,0.04,0.04];
const p27_sac = [1.05,1.50,1.68,1.55,1.50,1.52,1.53,1.55, 1.54,1.55,1.55,1.56,1.56,1.57,1.56,1.57, 1.58,1.58,1.59,1.59,1.60,1.60,1.60,1.60, 1.60,1.61,1.60,1.60,1.60,1.60,1.60,1.59];
const p27_sac_s = [0.15,0.25,0.15,0.12,0.12,0.1,0.08,0.07, 0.06,0.05,0.04,0.04,0.04,0.04,0.04,0.04, 0.04,0.04,0.04,0.04,0.04,0.04,0.04,0.04, 0.04,0.04,0.04,0.04,0.04,0.04,0.04,0.04];

// panel table (title, y-range, y tick labels, series)
const PANELS = [
  {t:'MiniGrid-RedBlueDoors-8x8-v0', y:[0.125,2.31], k:[1,2], s:[{m:p01_cv,s:p01_cv_s},{m:p01_mv,s:p01_mv_s},{m:p01_sac,s:p01_sac_s}]},
  {t:'MiniGrid-Playground-v0', y:[0.58,2.37], k:[1,2], s:[{m:p02_cv,s:p02_cv_s},{m:p02_mv,s:p02_mv_s},{m:p02_sac,s:p02_sac_s}]},
  {t:'MiniGrid-ObstructedMaze-Full-v0', y:[0.13,2.16], k:[1,2], s:[{m:p03_cv,s:p03_cv_s},{m:p03_mv,s:p03_mv_s},{m:p03_sac,s:p03_sac_s}]},
  {t:'MiniGrid-ObstructedMaze-1Dlhb-v0', y:[0.70,2.09], k:[1,2], s:[{m:p04_cv,s:p04_cv_s},{m:p04_mv,s:p04_mv_s},{m:p04_sac,s:p04_sac_s}]},
  {t:'MiniGrid-MultiRoom-N6-v0', y:[0.085,2.19], k:[1,2], s:[{m:p05_cv,s:p05_cv_s},{m:p05_mv,s:p05_mv_s},{m:p05_sac,s:p05_sac_s}]},
  {t:'MiniGrid-MultiRoom-N4-S5-v0', y:[-0.12,1.84], k:[0,1], s:[{m:p06_cv,lo:p06_cv_lo,hi:p06_cv_hi},{m:p06_mv,s:p06_mv_s},{m:p06_sac,s:p06_sac_s}]},
  {t:'MiniGrid-MemoryS13-v0', y:[-0.12,1.82], k:[0,1], s:[{m:p07_cv,s:p07_cv_s},{m:p07_mv,s:p07_mv_s},{m:p07_sac,s:p07_sac_s}]},
  {t:'MiniGrid-MemoryS11-v0', y:[-0.12,1.79], k:[0,1], s:[{m:p08_cv,s:p08_cv_s},{m:p08_mv,s:p08_mv_s},{m:p08_sac,s:p08_sac_s}]},
  {t:'MiniGrid-LockedRoom-v0', y:[0.87,2.52], k:[1,2], s:[{m:p09_cv,s:p09_cv_s},{m:p09_mv,s:p09_mv_s},{m:p09_sac,s:p09_sac_s}]},
  {t:'MiniGrid-KeyCorridorS6R3-v0', y:[0.16,2.79], k:[1,2], s:[{m:p10_cv,s:p10_cv_s},{m:p10_mv,s:p10_mv_s},{m:p10_sac,s:p10_sac_s}]},
  {t:'MiniGrid-GoToObject-8x8-N2-v0', y:[-0.21,2.46], k:[0,1,2], s:[{m:p11_cv,s:p11_cv_s},{m:p11_mv,s:p11_mv_s},{m:p11_sac,s:p11_sac_s}]},
  {t:'MiniGrid-GoToObject-6x6-N2-v0', y:[-0.2,2.05], k:[0,1,2], s:[{m:p12_cv,s:p12_cv_s},{m:p12_mv,s:p12_mv_s},{m:p12_sac,s:p12_sac_s}]},
  {t:'MiniGrid-GoToDoor-8x8-v0', y:[-0.21,2.22], k:[0,1,2], s:[{m:p13_cv,s:p13_cv_s},{m:p13_mv,s:p13_mv_s},{m:p13_sac,s:p13_sac_s}]},
  {t:'MiniGrid-FourRooms-v0', y:[0.86,2.52], k:[1,2], s:[{m:p14_cv,s:p14_cv_s},{m:p14_mv,s:p14_mv_s},{m:p14_sac,s:p14_sac_s}]},
  {t:'MiniGrid-Empty-16x16-v0', y:[-0.12,3.29], k:[0,1,2,3], s:[{m:p15_cv,s:p15_cv_s},{m:p15_mv,s:p15_mv_s},{m:p15_sac,s:p15_sac_s}]},
  {t:'MiniGrid-Dynamic-Obstacles-16x16-v0', y:[-0.26,3.15], k:[0,1,2,3], s:[{m:p16_cv,s:p16_cv_s},{m:p16_mv,s:p16_mv_s},{m:p16_sac,lo:p16_sac_lo,hi:p16_sac_hi}]},
  {t:'MiniGrid-Dynamic-Obstacles-8x8-v0', y:[-0.2,2.03], k:[0,1,2], s:[{m:p17_cv,lo:p17_cv_lo,hi:p17_cv_hi},{m:p17_mv,s:p17_mv_s},{m:p17_sac,lo:p17_sac_lo,hi:p17_sac_hi}]},
  {t:'MiniGrid-DoorKey-16x16-v0', y:[0.42,2.5], k:[1,2], s:[{m:p18_cv,s:p18_cv_s},{m:p18_mv,s:p18_mv_s},{m:p18_sac,s:p18_sac_s}]},
  {t:'MiniGrid-DoorKey-8x8-v0', y:[0.41,2.09], k:[1,2], s:[{m:p19_cv,s:p19_cv_s},{m:p19_mv,s:p19_mv_s},{m:p19_sac,s:p19_sac_s}]},
  {t:'MiniGrid-SimpleCrossingS13N1-v0', y:[-0.01,2.68], k:[0,1,2], s:[{m:p20_cv,s:p20_cv_s},{m:p20_mv,s:p20_mv_s},{m:p20_sac,s:p20_sac_s}]},
  {t:'MiniGrid-SimpleCrossingS15N1-v0', y:[-0.17,2.89], k:[0,1,2], s:[{m:p21_cv,s:p21_cv_s},{m:p21_mv,s:p21_mv_s},{m:p21_sac,s:p21_sac_s}]},
  {t:'MiniGrid-SimpleCrossingS11N1-v0', y:[0.01,2.55], k:[1,2], s:[{m:p22_cv,s:p22_cv_s},{m:p22_mv,s:p22_mv_s},{m:p22_sac,s:p22_sac_s}]},
  {t:'MiniGrid-SimpleCrossingS11N5-v0', y:[0.2,2.11], k:[1,2], s:[{m:p23_cv,s:p23_cv_s},{m:p23_mv,s:p23_mv_s},{m:p23_sac,s:p23_sac_s}]},
  {t:'MiniGrid-BlockedUnlockPickup-v0', y:[0.66,2.12], k:[1,2], s:[{m:p24_cv,s:p24_cv_s},{m:p24_mv,s:p24_mv_s},{m:p24_sac,s:p24_sac_s}]},
  {t:'MiniGrid-SimpleCrossingS9N1-v0', y:[0.3,2.17], k:[1,2], s:[{m:p25_cv,s:p25_cv_s},{m:p25_mv,s:p25_mv_s},{m:p25_sac,s:p25_sac_s}]},
  {t:'MiniGrid-Unlock-v0', y:[0.70,2.10], k:[1,2], s:[{m:p26_cv,s:p26_cv_s},{m:p26_mv,s:p26_mv_s},{m:p26_sac,s:p26_sac_s}]},
  {t:'MiniGrid-UnlockPickup-v0', y:[0.68,2.10], k:[1,2], s:[{m:p27_cv,s:p27_cv_s},{m:p27_mv,s:p27_mv_s},{m:p27_sac,s:p27_sac_s}]}
];

// ---------------- LAYOUT / STYLE ----------------
const COLORS = ['#1f77b4','#ff7f0e','#2ca02c'];
const SERIF = "'Liberation Serif','DejaVu Serif',serif";
const COL_LEFT = [145.5, 479.5, 813.5];
const ROW_TOP0 = 26.7, ROW_STEP = 147.6, GW = 308.5, GH = 116.6;

const chart = echarts.init(document.getElementById('c'), null, {renderer:'canvas', width:1124, height:1382});
const grids = [], xAxes = [], yAxes = [], series = [], graphics = [];

PANELS.forEach((p, gi) => {
  const r = Math.floor(gi / 3), c = gi % 3;
  const left = COL_LEFT[c], top = ROW_TOP0 + r * ROW_STEP;
  grids.push({left:left, top:top, width:GW, height:GH, show:true, borderColor:'#1a1a1a', borderWidth:0.9, backgroundColor:'rgba(0,0,0,0)', containLabel:false, outerBoundsMode:'none'});
  const bottomRow = (r === 8);
  xAxes.push({type:'value', gridIndex:gi, min:-20, max:420, position:'bottom',
    axisLine:{show:false, onZero:false}, splitLine:{show:false},
    axisTick:{show:true, customValues:X_TICKS, length:3.5, lineStyle:{color:'#1a1a1a', width:0.9}},
    axisLabel:{show:bottomRow, customValues:X_TICKS, margin:5, fontFamily:SERIF, fontSize:13, color:'#111',
      formatter:function(v){ const i = X_TICKS.indexOf(v); return i >= 0 ? X_TICK_LABELS[i] : ''; }}
  });
  yAxes.push({type:'value', gridIndex:gi, min:p.y[0], max:p.y[1], position:'left',
    axisLine:{show:false, onZero:false}, splitLine:{show:false},
    axisTick:{show:true, customValues:p.k, length:3.5, lineStyle:{color:'#1a1a1a', width:0.9}},
    axisLabel:{show:true, customValues:p.k, margin:5, fontFamily:SERIF, fontSize:13, color:'#111', formatter:function(v){return String(v);}}
  });
  graphics.push({type:'text', x:left + GW/2, y:top - 9.5, style:{text:p.t, font:"13.5px 'Liberation Serif','DejaVu Serif',serif", fill:'#111', align:'center', verticalAlign:'middle', textAlign:'center', textVerticalAlign:'middle'}, z:10});

  // bands first
  p.s.forEach((sd, si) => {
    const lo = sd.lo ? sd.lo : sd.m.map((v,i) => v - sd.s[i]);
    const hi = sd.hi ? sd.hi : sd.m.map((v,i) => v + sd.s[i]);
    const color = COLORS[si];
    series.push({
      type:'custom', xAxisIndex:gi, yAxisIndex:gi, silent:true, z:1, clip:true,
      data: X.map((x,i) => [x, lo[i], hi[i]]),
      encode:{x:0, y:[1,2]},
      renderItem: function(params, api){
        if (params.dataIndex !== 0) return null;
        const up = [], dn = [];
        for (let i = 0; i < X.length; i++) { up.push(api.coord([X[i], hi[i]])); dn.push(api.coord([X[i], lo[i]])); }
        const cs = params.coordSys;
        return {type:'polygon', shape:{points: up.concat(dn.reverse())},
          style:{fill:color, opacity:0.2},
          clipPath:{type:'rect', shape:{x:cs.x, y:cs.y, width:cs.width, height:cs.height}}};
      }
    });
  });
  p.s.forEach((sd, si) => {
    series.push({
      type:'line', name:SERIES_NAMES[si], xAxisIndex:gi, yAxisIndex:gi, z:2, silent:true,
      data: X.map((x,i) => [x, sd.m[i]]),
      symbol:'none', showSymbol:false, clip:true,
      lineStyle:{color:COLORS[si], width:1.25}, itemStyle:{color:COLORS[si]}
    });
  });
});

// margin line numbers
LINE_NUMBERS.forEach((n, i) => {
  graphics.push({type:'text', x:10, y:12.5 + i*31.9, style:{text:String(n), font:"bold 20px 'Liberation Sans','DejaVu Sans',sans-serif", fill:'#b5b5b5', align:'left', verticalAlign:'middle', textAlign:'left', textVerticalAlign:'middle'}, z:10});
});

chart.setOption({
  animation:false,
  backgroundColor:'#ffffff',
  grid:grids, xAxis:xAxes, yAxis:yAxes, series:series,
  graphic:graphics,
  legend:{
    data:SERIES_NAMES, left:509, top:1358, orient:'horizontal',
    icon:'rect', itemWidth:28, itemHeight:1.5, itemGap:26,
    padding:[5,6,5,5],
    borderColor:'#cccccc', borderWidth:1, borderRadius:3, backgroundColor:'#ffffff',
    textStyle:{fontFamily:SERIF, fontSize:13, color:'#111', padding:[0,0,0,5]},
    selectedMode:false
  }
});
</script></body></html>
